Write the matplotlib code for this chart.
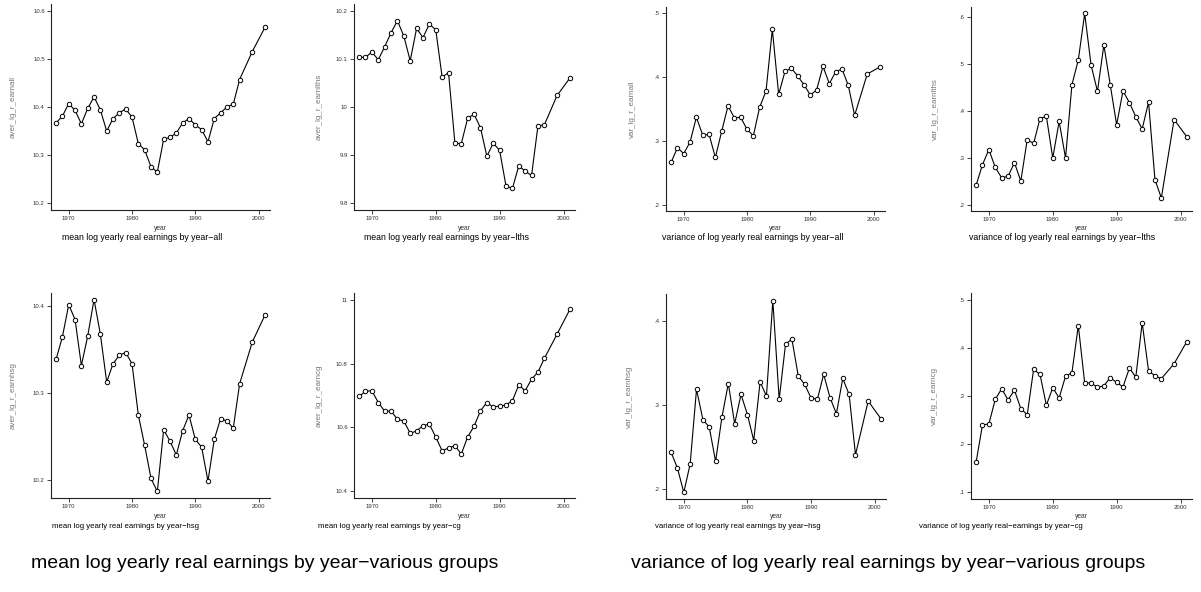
import matplotlib
matplotlib.use("Agg")
import matplotlib.pyplot as plt

plt.rcParams['font.family'] = ['Liberation Sans', 'DejaVu Sans']

years = list(range(1968, 1998)) + [1999, 2001]

mean_all = [10.367, 10.381, 10.407, 10.393, 10.365, 10.397, 10.421, 10.394, 10.350, 10.376,
            10.388, 10.396, 10.379, 10.324, 10.311, 10.276, 10.265, 10.333, 10.337, 10.346,
            10.367, 10.376, 10.363, 10.353, 10.328, 10.376, 10.388, 10.400, 10.406, 10.457,
            10.515, 10.565]
mean_lths = [10.103, 10.103, 10.114, 10.098, 10.125, 10.154, 10.179, 10.147, 10.096, 10.163,
             10.144, 10.172, 10.160, 10.062, 10.071, 9.925, 9.924, 9.977, 9.985, 9.957,
             9.898, 9.925, 9.910, 9.836, 9.831, 9.878, 9.867, 9.858, 9.961, 9.963,
             10.024, 10.060]
mean_hsg = [10.339, 10.365, 10.402, 10.385, 10.332, 10.366, 10.408, 10.368, 10.313, 10.334,
            10.344, 10.347, 10.334, 10.275, 10.240, 10.202, 10.187, 10.258, 10.245, 10.229,
            10.257, 10.275, 10.247, 10.238, 10.199, 10.247, 10.271, 10.268, 10.260, 10.311,
            10.359, 10.390]
mean_cg = [10.697, 10.713, 10.715, 10.678, 10.651, 10.651, 10.626, 10.620, 10.582, 10.589,
           10.606, 10.610, 10.570, 10.527, 10.536, 10.543, 10.517, 10.571, 10.604, 10.652,
           10.678, 10.664, 10.667, 10.670, 10.684, 10.733, 10.715, 10.751, 10.773, 10.816,
           10.892, 10.969]
var_all = [.266, .289, .280, .298, .337, .309, .310, .274, .315, .355,
           .336, .337, .318, .308, .353, .378, .475, .373, .409, .414,
           .402, .388, .372, .380, .417, .390, .408, .413, .387, .340,
           .405, .416]
var_lths = [.241, .285, .317, .279, .257, .260, .289, .250, .338, .330,
            .383, .388, .299, .377, .299, .455, .508, .607, .497, .441,
            .540, .455, .370, .442, .417, .387, .361, .418, .253, .214,
            .381, .344]
var_hsg = [.244, .225, .196, .230, .319, .283, .274, .233, .286, .326,
           .278, .313, .289, .258, .328, .311, .425, .307, .373, .379,
           .335, .325, .309, .307, .337, .309, .290, .332, .313, .241,
           .305, .284]
var_cg = [.163, .240, .242, .293, .315, .292, .312, .274, .261, .355,
          .345, .281, .317, .296, .341, .348, .446, .327, .327, .318,
          .321, .338, .328, .319, .358, .339, .452, .352, .342, .336,
          .367, .413]

xticks = [1970, 1980, 1990, 2000]

# (series, y label, subtitle, y ticks, tick label strings)
panels = [
    (mean_all, "aver_lg_r_earnall", "mean log yearly real earnings by year\u2212all",
     [10.2, 10.3, 10.4, 10.5, 10.6], ["10.2", "10.3", "10.4", "10.5", "10.6"]),
    (mean_lths, "aver_lg_r_earnlths", "mean log yearly real earnings by year\u2212lths",
     [9.8, 9.9, 10.0, 10.1, 10.2], ["9.8", "9.9", "10", "10.1", "10.2"]),
    (var_all, "var_lg_r_earnall", "variance of log yearly real earnings by year\u2212all",
     [.2, .3, .4, .5], [".2", ".3", ".4", ".5"]),
    (var_lths, "var_lg_r_earnlths", "variance of log yearly real earnings by year\u2212lths",
     [.2, .3, .4, .5, .6], [".2", ".3", ".4", ".5", ".6"]),
    (mean_hsg, "aver_lg_r_earnhsg", "mean log yearly real earnings by year\u2212hsg",
     [10.2, 10.3, 10.4], ["10.2", "10.3", "10.4"]),
    (mean_cg, "aver_lg_r_earncg", "mean log yearly real earnings by year\u2212cg",
     [10.4, 10.6, 10.8, 11.0], ["10.4", "10.6", "10.8", "11"]),
    (var_hsg, "var_lg_r_earnhsg", "variance of log yearly real earnings by year\u2212hsg",
     [.2, .3, .4], [".2", ".3", ".4"]),
    (var_cg, "var_lg_r_earncg", "variance of log yearly real\u2212earnings by year\u2212cg",
     [.1, .2, .3, .4, .5], [".1", ".2", ".3", ".4", ".5"]),
]

# pixel boxes (left, right, top, bottom) and text anchors
boxes = [(51, 270, 4, 210), (354, 575, 4, 210), (666, 885, 7, 211), (971, 1192, 7, 211),
         (51, 270, 293, 498), (354, 575, 293, 498), (666, 886, 294, 499), (971, 1192, 293, 499)]
ylab_x = [13, 319, 632, 935, 13, 319, 629, 934]
sub_x = [142, 447, 753, 1062, 126, 389, 738, 1001]

W, H = 1201, 592
fig = plt.figure(figsize=(W / 100, H / 100), dpi=100)

for i, (vals, ylab, sub, yt, ytl) in enumerate(panels):
    l, r, t, b = boxes[i]
    ax = fig.add_axes([l / W, 1 - b / H, (r - l) / W, (b - t) / H])
    ax.plot(years, vals, color='black', lw=0.8, marker='o', ms=3.2,
            mfc='white', mec='black', mew=0.7)
    lo = min(min(vals), yt[0])
    hi = max(max(vals), yt[-1])
    pad = 0.034 * (hi - lo)
    ax.set_ylim(lo - pad, hi + pad)
    ax.set_xlim(1967.2, 2001.8)
    ax.set_xticks(xticks)
    ax.set_xticklabels([str(x) for x in xticks])
    ax.set_yticks(yt)
    ax.set_yticklabels(ytl)
    for s in ['top', 'right']:
        ax.spines[s].set_visible(False)
    for s in ['left', 'bottom']:
        ax.spines[s].set_linewidth(0.8)
        ax.spines[s].set_color('#222222')
    ax.tick_params(length=3, width=0.6, labelsize=4.3, pad=1.5, colors='#222222',
                   labelcolor='#333333')

    cx = (l + r) / 2
    row_y = 0 if i < 4 else 288
    fig.text(cx / W, 1 - (228 + row_y) / H, "year", ha='center', va='center',
             fontsize=4.8, color='#333333')
    fig.text(sub_x[i] / W, 1 - (238 + row_y) / H, sub, ha='center', va='center',
             fontsize=6.3 if i < 4 else 5.6, color='black')
    fig.text(ylab_x[i] / W, 1 - ((t + b) / 2) / H, ylab, ha='center', va='center',
             rotation=90, fontsize=5.8, color='#777777')

fig.text(265 / W, 1 - 564 / H, "mean log yearly real earnings by year\u2212various groups",
         ha='center', va='center', fontsize=14)
fig.text(888 / W, 1 - 564 / H, "variance of log yearly real earnings by year\u2212various groups",
         ha='center', va='center', fontsize=14)

fig.savefig("out.png", dpi=100, facecolor='white')
